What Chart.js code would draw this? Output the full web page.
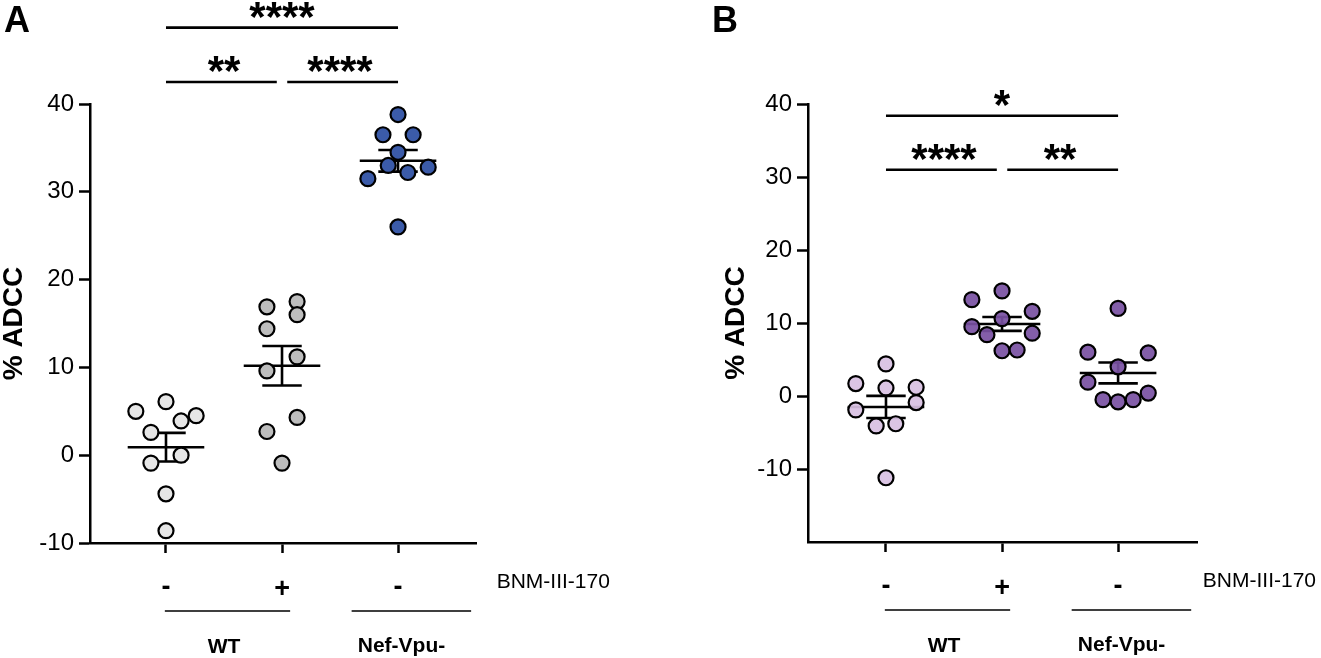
<!DOCTYPE html>
<html lang="en">
<head>
    <meta charset="UTF-8">
    <title>% ADCC - WT vs Nef-Vpu-</title>
    <script src="https://cdn.jsdelivr.net/npm/chart.js@4.4.1/dist/chart.umd.min.js"></script>
    <style>
        body {
            margin: 0;
            background: #ffffff;
            width: 1321px;
            height: 658px;
            overflow: hidden;
            position: relative;
            font-family: "Liberation Sans", Arial, sans-serif;
        }
        .panel { position: absolute; top: 0; }
        #panelA { left: 0; }
        #panelB { left: 660px; }
    </style>
</head>
<body>

    <canvas id="panelA" class="panel" width="660" height="658"></canvas>
    <canvas id="panelB" class="panel" width="661" height="658"></canvas>

    <script>
        // ---- data ----
        var groupPos = [1, 2, 3];
        var treatment = ['-', '+', '-'];
        var drugName = 'BNM-III-170';
        var virusNames = ['WT', 'Nef-Vpu-'];

        // panel A
        var adccA_wt      = [6.1, 5.0, 4.5, 3.9, 2.6, 0.0, -0.9, -4.4, -8.6];
        var adccA_wtDrug  = [17.5, 16.9, 16.0, 14.4, 11.2, 9.6, 4.3, 2.7, -0.9];
        var adccA_nefVpu  = [38.8, 36.5, 36.5, 34.5, 33.0, 32.2, 32.8, 31.5, 26.0];
        var jitterA_wt     = [0, -2, 2, 1, -1, 1, -1, 0, 0];
        var jitterA_wtDrug = [1, -1, 1, -1, 1, -1, 1, -1, 0];
        var jitterA_nefVpu = [0, -1, 1, 0, -0.65, 0.65, 2, -2, 0];
        var sigA_from  = [1, 2, 1];
        var sigA_to    = [2, 3, 3];
        var sigA_level = [42.5, 42.5, 48.7];
        var sigA_text  = ['**', '****', '****'];

        // panel B
        var adccB_wt      = [4.4, 1.7, 1.1, 1.2, -0.9, -1.9, -4.1, -3.8, -11.2];
        var adccB_wtDrug  = [14.4, 13.2, 11.6, 10.6, 9.5, 8.4, 8.6, 6.2, 6.3];
        var adccB_nefVpu  = [12.0, 6.0, 5.9, 4.0, 1.9, 0.4, -0.5, -0.8, -0.5];
        var jitterB_wt     = [0, -2, 0, 2, 2, -2, -0.65, 0.65, 0];
        var jitterB_wtDrug = [0, -2, 2, 0, -2, -1, 2, 0, 1];
        var jitterB_nefVpu = [0, -2, 2, 0, -2, 2, -1, 0, 1];
        var sigB_from  = [1, 2, 1];
        var sigB_to    = [2, 3, 3];
        var sigB_level = [31.0, 31.0, 38.4];
        var sigB_text  = ['****', '**', '*'];

        var FONT = '"Liberation Sans", Arial, sans-serif';
        var SLOT = 0.13;   // horizontal spacing of scattered points, in category units

        function mean(a) { return a.reduce(function (s, v) { return s + v; }, 0) / a.length; }
        function sem(a) {
            var m = mean(a);
            var v = a.reduce(function (s, x) { return s + (x - m) * (x - m); }, 0) / (a.length - 1);
            return Math.sqrt(v / a.length);
        }

        // mean +/- SEM drawn under the points
        var errorBars = {
            id: 'errorBars',
            beforeDatasetsDraw: function (chart) {
                var ctx = chart.ctx, x = chart.scales.x, y = chart.scales.y;
                ctx.save();
                ctx.strokeStyle = '#000';
                ctx.lineWidth = 2.6;
                function seg(x0, y0, x1, y1) {
                    ctx.beginPath();
                    ctx.moveTo(x.getPixelForValue(x0), y.getPixelForValue(y0));
                    ctx.lineTo(x.getPixelForValue(x1), y.getPixelForValue(y1));
                    ctx.stroke();
                }
                chart.data.datasets.forEach(function (ds, i) {
                    var vals = ds.data.map(function (p) { return p.y; });
                    var m = mean(vals), s = sem(vals), g = groupPos[i];
                    seg(g - 0.33, m, g + 0.33, m);
                    seg(g - 0.17, m + s, g + 0.17, m + s);
                    seg(g - 0.17, m - s, g + 0.17, m - s);
                    seg(g, m - s, g, m + s);
                });
                ctx.restore();
            }
        };

        function centeredText(ctx, text, cx, cy) {
            var m = ctx.measureText(text);
            ctx.fillText(text, cx, cy + (m.actualBoundingBoxAscent - m.actualBoundingBoxDescent) / 2);
        }

        function decoPlugin(cfg) {
            return {
                id: 'deco',
                afterDraw: function (chart) {
                    var ctx = chart.ctx, x = chart.scales.x, y = chart.scales.y;
                    var bottom = chart.chartArea.bottom;
                    ctx.save();
                    ctx.fillStyle = '#000';
                    ctx.strokeStyle = '#000';

                    // panel letter
                    ctx.font = 'bold 36px ' + FONT;
                    ctx.textAlign = 'left';
                    ctx.fillText(cfg.letter, cfg.letterX, 32);

                    // significance brackets
                    ctx.lineWidth = 2.6;
                    ctx.font = 'bold 42px ' + FONT;
                    ctx.textAlign = 'center';
                    for (var i = 0; i < cfg.sigFrom.length; i++) {
                        var full = (cfg.sigTo[i] - cfg.sigFrom[i]) > 1;
                        var x0 = cfg.sigFrom[i] + (full || cfg.sigFrom[i] === 1 ? 0 : 0.045);
                        var x1 = cfg.sigTo[i] - (full || cfg.sigTo[i] === 3 ? 0 : 0.045);
                        var py = y.getPixelForValue(cfg.sigLevel[i]);
                        ctx.beginPath();
                        ctx.moveTo(x.getPixelForValue(x0), py);
                        ctx.lineTo(x.getPixelForValue(x1), py);
                        ctx.stroke();
                        centeredText(ctx, cfg.sigText[i], x.getPixelForValue((cfg.sigFrom[i] + cfg.sigTo[i]) / 2), py - 18);
                    }

                    // treatment row
                    ctx.font = 'bold 27px ' + FONT;
                    treatment.forEach(function (t, k) {
                        centeredText(ctx, t, x.getPixelForValue(groupPos[k]), bottom + 44);
                    });
                    ctx.font = '21px ' + FONT;
                    ctx.textAlign = 'left';
                    centeredText(ctx, drugName, x.getPixelForValue(cfg.drugX), bottom + 38);

                    // virus underlines and names
                    ctx.lineWidth = 1.5;
                    ctx.beginPath();
                    ctx.moveTo(x.getPixelForValue(0.99), bottom + 68);
                    ctx.lineTo(x.getPixelForValue(2.07), bottom + 68);
                    ctx.moveTo(x.getPixelForValue(2.6), bottom + 68);
                    ctx.lineTo(x.getPixelForValue(3.63), bottom + 68);
                    ctx.stroke();
                    ctx.font = 'bold 21px ' + FONT;
                    ctx.textAlign = 'center';
                    centeredText(ctx, virusNames[0], x.getPixelForValue(1.5), bottom + 103);
                    centeredText(ctx, virusNames[1], x.getPixelForValue(3.03), bottom + 103);
                    ctx.restore();
                }
            };
        }

        function points(values, jitter, g) {
            return values.map(function (v, i) { return { x: g + jitter[i] * SLOT, y: v }; });
        }

        function makePanel(id, series, jitters, colors, yMin, xMin, xMax, pad, yWidth, cfg) {
            var datasets = series.map(function (vals, i) {
                return {
                    data: points(vals, jitters[i], groupPos[i]),
                    pointRadius: 7.5,
                    pointHoverRadius: 7.5,
                    pointBorderWidth: 2.2,
                    pointBorderColor: '#000',
                    pointBackgroundColor: colors[i]
                };
            });
            return new Chart(document.getElementById(id), {
                type: 'scatter',
                data: { datasets: datasets },
                options: {
                    responsive: false,
                    animation: false,
                    devicePixelRatio: 1,
                    layout: { padding: pad },
                    plugins: { legend: { display: false }, tooltip: { enabled: false } },
                    scales: {
                        x: {
                            type: 'linear',
                            min: xMin,
                            max: xMax,
                            afterBuildTicks: function (s) {
                                s.ticks = groupPos.map(function (v) { return { value: v }; });
                            },
                            ticks: { display: false },
                            grid: { drawOnChartArea: false, tickLength: 10, tickWidth: 2.5, tickColor: '#000' },
                            border: { display: true, color: '#000', width: 2.5 },
                            afterFit: function (s) { s.height = 10; }
                        },
                        y: {
                            min: yMin,
                            max: 40,
                            afterBuildTicks: function (s) {
                                s.ticks = s.ticks.filter(function (t) { return t.value >= -10; });
                            },
                            ticks: { stepSize: 10, color: '#000', padding: 5, font: { size: 24, family: FONT } },
                            grid: { drawOnChartArea: false, tickLength: 11, tickWidth: 2.5, tickColor: '#000' },
                            border: { display: true, color: '#000', width: 2.5 },
                            title: {
                                display: true,
                                text: '% ADCC',
                                color: '#000',
                                padding: 0,
                                font: { size: 28, weight: 'bold', family: FONT, lineHeight: 1 }
                            },
                            afterFit: function (s) { s.width = yWidth; }
                        }
                    }
                },
                plugins: [errorBars, decoPlugin(cfg)]
            });
        }

        makePanel('panelA',
            [adccA_wt, adccA_wtDrug, adccA_nefVpu],
            [jitterA_wt, jitterA_wtDrug, jitterA_nefVpu],
            ['#e6e6e6', '#bdbdbd', '#3b5ba9'],
            -10, 0.345, 3.672,
            { left: 0, right: 184, top: 104, bottom: 105 }, 90,
            { letter: 'A', letterX: 4, sigFrom: sigA_from, sigTo: sigA_to, sigLevel: sigA_level, sigText: sigA_text, drugX: 3.85 });

        makePanel('panelB',
            [adccB_wt, adccB_wtDrug, adccB_nefVpu],
            [jitterB_wt, jitterB_wtDrug, jitterB_nefVpu],
            ['rgba(216,192,226,0.92)', 'rgba(120,80,162,0.92)', 'rgba(120,80,162,0.92)'],
            -20, 0.328, 3.68,
            { left: 62, right: 124, top: 104, bottom: 106 }, 86,
            { letter: 'B', letterX: 52, sigFrom: sigB_from, sigTo: sigB_to, sigLevel: sigB_level, sigText: sigB_text, drugX: 3.73 });
    </script>
</body>
</html>
